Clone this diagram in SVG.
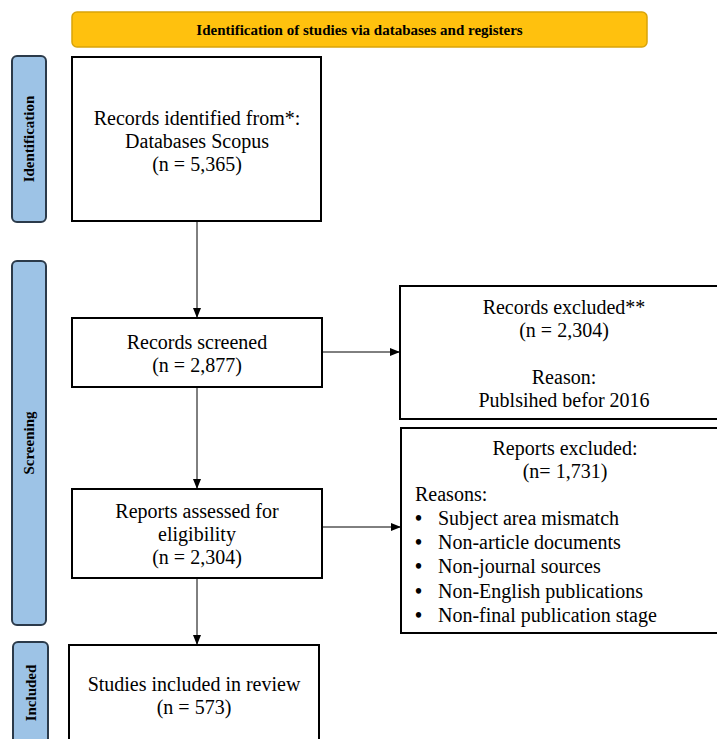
<svg xmlns="http://www.w3.org/2000/svg" width="717" height="739" viewBox="0 0 717 739">
<style>
.box{fill:#fff;stroke:#000;stroke-width:2}
.side{fill:#9DC3E6;stroke:#2B3A4A;stroke-width:2}
.t{font-family:"Liberation Serif","Times New Roman",serif;font-size:20px;fill:#000}
.c{text-anchor:middle}
.s{font-family:"Liberation Serif","Times New Roman",serif;font-size:15px;font-weight:bold;fill:#000;text-anchor:middle}
.b{font-family:"Liberation Serif","Times New Roman",serif;font-size:20px;font-weight:bold;fill:#000}
.con{stroke:#000;stroke-width:1;fill:none;marker-end:url(#ah)}
</style>
<defs>
<marker id="ah" markerWidth="10" markerHeight="10" refX="9" refY="5" orient="auto" markerUnits="userSpaceOnUse">
<path d="M0,1 L10,5 L0,9 Z" fill="#000"/>
</marker>
</defs>
<rect width="717" height="739" fill="#fff"/>
<g id="banner">
<rect x="72" y="12" width="575" height="35" rx="5" fill="#FFC10E" stroke="#D9A40A" stroke-width="1.5"/>
<text x="359.5" y="35" class="s">Identification of studies via databases and registers</text>
</g>
<g id="side-identification">
<rect x="12" y="56" width="34" height="166" rx="5" class="side"/>
<text class="s" transform="translate(34,139) rotate(-90)">Identification</text>
</g>
<g id="side-screening">
<rect x="12" y="261" width="34" height="364" rx="5" class="side"/>
<text class="s" transform="translate(34,443) rotate(-90)">Screening</text>
</g>
<g id="side-included">
<rect x="13" y="642" width="35" height="110" rx="5" class="side"/>
<text class="s" transform="translate(36,693) rotate(-90)">Included</text>
</g>
<g id="records-identified">
<rect x="72" y="57" width="249" height="164" class="box"/>
<text class="t c" x="197" y="125">Records identified from*:</text>
<text class="t c" x="197" y="148">Databases Scopus</text>
<text class="t c" x="197" y="171">(n = 5,365)</text>
</g>
<g id="records-screened">
<rect x="72" y="318" width="250" height="69" class="box"/>
<text class="t c" x="197" y="349">Records screened</text>
<text class="t c" x="197" y="372">(n = 2,877)</text>
</g>
<g id="records-excluded">
<rect x="400" y="286" width="330" height="133" class="box"/>
<text class="t c" x="564" y="314">Records excluded**</text>
<text class="t c" x="564" y="337">(n = 2,304)</text>
<text class="t c" x="564" y="384">Reason:</text>
<text class="t c" x="564" y="407">Publsihed befor 2016</text>
</g>
<g id="reports-assessed">
<rect x="72" y="489" width="250" height="89" class="box"/>
<text class="t c" x="197" y="518">Reports assessed for</text>
<text class="t c" x="197" y="541">eligibility</text>
<text class="t c" x="197" y="564">(n = 2,304)</text>
</g>
<g id="reports-excluded">
<rect x="401" y="428" width="330" height="205" class="box"/>
<text class="t c" x="565" y="455">Reports excluded:</text>
<text class="t c" x="565" y="478">(n= 1,731)</text>
<text class="t" x="415" y="501">Reasons:</text>
<g class="b">
<text x="415" y="525">•</text>
<text x="415" y="549">•</text>
<text x="415" y="573">•</text>
<text x="415" y="598">•</text>
<text x="415" y="622">•</text>
</g>
<g class="t">
<text x="438" y="525">Subject area mismatch</text>
<text x="438" y="549">Non-article documents</text>
<text x="438" y="573">Non-journal sources</text>
<text x="438" y="598">Non-English publications</text>
<text x="438" y="622">Non-final publication stage</text>
</g>
</g>
<g id="studies-included">
<rect x="69" y="645" width="250" height="110" class="box"/>
<text class="t c" x="194" y="691">Studies included in review</text>
<text class="t c" x="194" y="714">(n = 573)</text>
</g>
<g id="connectors">
<line x1="197" y1="221" x2="197" y2="317" class="con"/>
<line x1="322" y1="352" x2="399" y2="352" class="con"/>
<line x1="197" y1="387" x2="197" y2="488" class="con"/>
<line x1="322" y1="527" x2="400" y2="527" class="con"/>
<line x1="197" y1="578" x2="197" y2="644" class="con"/>
</g>
</svg>
